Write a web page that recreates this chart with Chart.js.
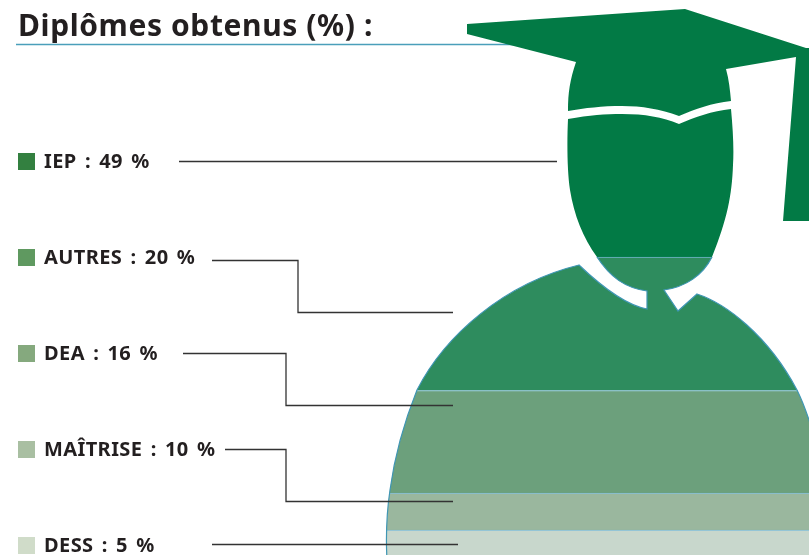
<!DOCTYPE html>
<html lang="fr">
<head>
<meta charset="utf-8">
<title>Diplômes obtenus</title>
<style>
  html, body { margin: 0; padding: 0; background: #fff; }
  #chart { display: block; }
</style>
<script src="https://cdn.jsdelivr.net/npm/chart.js@4"></script>
</head>
<body>
<canvas id="chart" width="809" height="555"></canvas>
<script>
const titleText = 'Diplômes obtenus (%) :';
const diplomas = ['IEP', 'AUTRES', 'DEA', 'MAÎTRISE', 'DESS'];
const shares = [49, 20, 16, 10, 5];

const bandColors = ['#027a45', '#2e8c5e', '#6ca07c', '#9ab79e', '#c8d7cc'];
const swatchColors = ['#338040', '#5f9960', '#85a97e', '#a9bfa2', '#d0dcc9'];
const textColor = '#231f20';

// Leader lines, one per diploma
const leaders = [
    [[179, 161.5], [557, 161.5]],
    [[212, 260.5], [298, 260.5], [298, 312.5], [453, 312.5]],
    [[183, 353.5], [286, 353.5], [286, 405.5], [453, 405.5]],
    [[225, 449.5], [286, 449.5], [286, 501.5], [453, 501.5]],
    [[212, 544.5], [458, 544.5]],
];

// Silhouette used as a clip for the stacked bar
const capPath = 'M467,24 L685,9 L806,48 L815,48 L815,221 L783,221 L796,57 L726,69 ' +
    'C729,80 730,90 731,101 C712,103 695,109 679,116 C660,109 642,106 622,106 ' +
    'C602,106 585,108 568,111 C568,92 570,80 576,62 L467,34 Z';
const personPath = 'M568,119 C590,115 605,114 622,114 C645,114 662,117 679,124 ' +
    'C695,117 712,111 731,109 C733,130 734,150 733,165 C732,195 727,220 712,257 ' +
    'C703,275 686,287 664,290 L678,311 L697,294 ' +
    'C725,303 768,335 797,390 C802,400 806,411 809,420 L825,470 L825,575 L388,575 ' +
    'C385,540 387,510 390,490 C394,460 403,425 417,390 C445,335 505,283 579,265 ' +
    'C600,285 625,305 647,309 L647,291 C625,288 610,277 597,257 ' +
    'C583,238 574,215 570,190 C567,170 567,140 568,119 Z';
const silhouette = new Path2D(capPath + ' ' + personPath);
const personOutline = new Path2D(personPath);

// Linear scale whose bands keep the artwork's uneven heights
class BandScale extends Chart.LinearScale {
    getPixelForValue(value) {
        const stops = this.options.valueStops;
        const pixels = this.options.pixelStops;
        for (let i = 1; i < stops.length; i++) {
            if (value <= stops[i]) {
                const t = (value - stops[i - 1]) / (stops[i] - stops[i - 1]);
                return pixels[i - 1] + t * (pixels[i] - pixels[i - 1]);
            }
        }
        return pixels[pixels.length - 1];
    }
}
BandScale.id = 'bandScale';
BandScale.defaults = Chart.LinearScale.defaults;
Chart.register(BandScale);

Chart.register({
    id: 'silhouetteClip',
    beforeDatasetsDraw(chart) {
        const ctx = chart.ctx;
        ctx.save();
        ctx.strokeStyle = '#4a9fba';
        ctx.lineWidth = 1.6;
        ctx.beginPath();
        ctx.moveTo(16, 44.5);
        ctx.lineTo(530, 44.5);
        ctx.stroke();
        ctx.restore();
        ctx.save();
        ctx.clip(silhouette);
    },
    afterDatasetsDraw(chart) {
        const ctx = chart.ctx;
        ctx.restore();

        // Thin blue edge, only below the top band
        const edge = chart.scales.y.getPixelForValue(100 - shares[0]);
        ctx.save();
        ctx.beginPath();
        ctx.rect(0, edge, chart.width, chart.height - edge);
        ctx.clip();
        ctx.strokeStyle = '#3f96b4';
        ctx.lineWidth = 1.2;
        ctx.stroke(personOutline);
        ctx.restore();

        ctx.save();
        ctx.strokeStyle = '#333333';
        ctx.lineWidth = 1.3;
        leaders.forEach((points) => {
            ctx.beginPath();
            points.forEach(([x, y], i) => (i ? ctx.lineTo(x, y) : ctx.moveTo(x, y)));
            ctx.stroke();
        });

        ctx.textBaseline = 'alphabetic';
        ctx.fillStyle = textColor;
        ctx.font = 'bold 30px "Noto Sans"';
        ctx.letterSpacing = '0.6px';
        ctx.fillText(titleText, 18, 36);

        diplomas.forEach((name, i) => {
            const top = 153 + i * 96;
            ctx.fillStyle = swatchColors[i];
            ctx.fillRect(18, top, 17, 17);
            ctx.fillStyle = textColor;
            ctx.font = 'bold 20px "Noto Sans"';
            ctx.letterSpacing = '0.4px';
            ctx.wordSpacing = '2.7px';
            ctx.fillText(`${name} : ${shares[i]} %`, 44, top + 15);
        });
        ctx.restore();
    },
});

// Bottom band comes first in the stack
const datasets = diplomas.map((name, i) => ({
    label: name,
    data: [shares[i]],
    backgroundColor: bandColors[i],
    borderColor: 'rgba(90, 170, 205, 0.75)',
    borderWidth: i === 0 ? 0 : { top: 1 },
    borderSkipped: false,
    barPercentage: 1,
    categoryPercentage: 1,
})).reverse();

new Chart(document.getElementById('chart').getContext('2d'), {
    type: 'bar',
    data: { labels: [titleText], datasets: datasets },
    options: {
        responsive: false,
        animation: false,
        layout: { padding: 0 },
        plugins: {
            legend: { display: false },
            tooltip: { enabled: false },
        },
        scales: {
            x: { stacked: true, display: false },
            y: {
                type: 'bandScale',
                stacked: true,
                display: false,
                min: 0,
                max: 100,
                valueStops: [0, 5, 15, 31, 51, 100],
                pixelStops: [560, 530, 493, 390.5, 257, 9],
            },
        },
    },
});
</script>
</body>
</html>
